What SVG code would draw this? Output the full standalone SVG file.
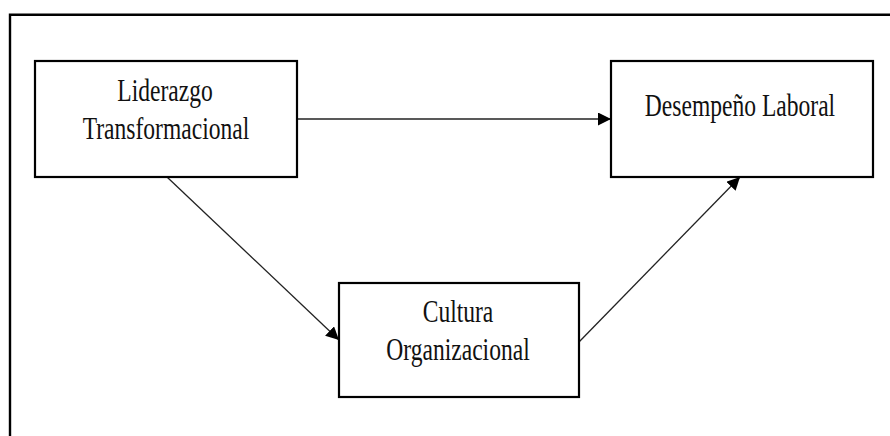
<svg xmlns="http://www.w3.org/2000/svg" width="890" height="436" viewBox="0 0 890 436">
<style>
.box{fill:#fff;stroke:#000;stroke-width:2.2}
.lbl{font-family:"Liberation Serif","Times New Roman",serif;font-size:31px;fill:#111;text-anchor:middle}
.con{stroke:#222;stroke-width:1.3;fill:none}
</style>
<defs>
<marker id="ah" markerUnits="userSpaceOnUse" markerWidth="16" markerHeight="14" refX="13" refY="6.5" orient="auto">
<path d="M0,0 L13,6.5 L0,13 Z" fill="#000"/>
</marker>
</defs>
<rect width="890" height="436" fill="#fff"/>
<path d="M10,436 V14.8 H890" fill="none" stroke="#000" stroke-width="2.4"/>
<g id="connectors">
<line class="con" x1="297" y1="119" x2="611" y2="119" marker-end="url(#ah)"/>
<line class="con" x1="167" y1="177" x2="339" y2="340" marker-end="url(#ah)"/>
<line class="con" x1="579" y1="342" x2="740" y2="177" marker-end="url(#ah)"/>
</g>
<g id="liderazgo">
<rect class="box" x="35" y="61" width="262" height="116"/>
<text class="lbl" transform="translate(165,101) scale(0.76,1)">Liderazgo</text>
<text class="lbl" transform="translate(166,139) scale(0.76,1)">Transformacional</text>
</g>
<g id="desempeno">
<rect class="box" x="611" y="61" width="262" height="116"/>
<text class="lbl" transform="translate(740,116) scale(0.76,1)">Desempeño Laboral</text>
</g>
<g id="cultura">
<rect class="box" x="339" y="283" width="240" height="114"/>
<text class="lbl" transform="translate(458,322) scale(0.76,1)">Cultura</text>
<text class="lbl" transform="translate(458,360) scale(0.76,1)">Organizacional</text>
</g>
</svg>
